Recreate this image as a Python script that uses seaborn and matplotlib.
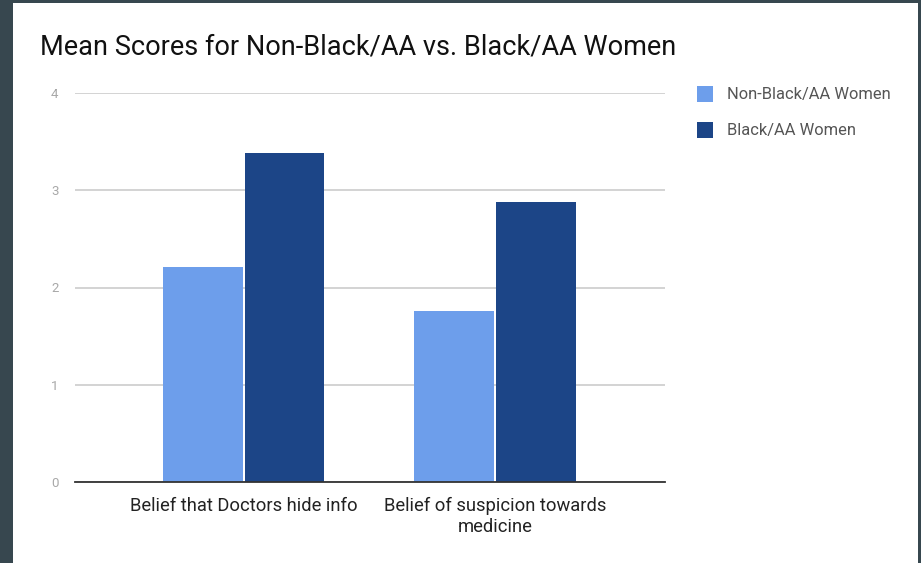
import matplotlib
matplotlib.use("Agg")
import matplotlib.pyplot as plt
from matplotlib.patches import Rectangle
import seaborn as sns
import pandas as pd

categories = ["Belief that Doctors hide info", "Belief of suspicion towards\nmedicine"]
groups = ["Non-Black/AA Women", "Black/AA Women"]
non_black_scores = [2.21, 1.76]
black_scores = [3.38, 2.88]
y_ticks = [0, 1, 2, 3, 4]

df = pd.DataFrame({
    "category": categories * 2,
    "group": [groups[0]] * 2 + [groups[1]] * 2,
    "score": non_black_scores + black_scores,
})

sns.set_theme(style="white")
plt.rcParams["font.family"] = ["Roboto", "DejaVu Sans"]

palette = {groups[0]: "#6d9eeb", groups[1]: "#1c4587"}

fig = plt.figure(figsize=(9.21, 5.63), dpi=100)
fig.patch.set_facecolor("white")
ax = fig.add_axes([75 / 921, 1 - 482 / 563, 590 / 921, 389 / 563])

sns.barplot(data=df, x="category", y="score", hue="group", palette=palette,
            width=0.648, gap=0.02, saturation=1, ax=ax, legend=False,
            edgecolor="none", zorder=3)

ax.set_xlim(-0.673, 1.677)
ax.set_ylim(0, 4)
ax.set_yticks(y_ticks)
ax.set_yticklabels([str(t) for t in y_ticks], color="#a8a8a8", fontsize=9.5)
ax.tick_params(axis="y", length=0, pad=12)
ax.tick_params(axis="x", length=0, pad=11, labelsize=13.2, labelcolor="#222222")
ax.set_xlabel("")
ax.set_ylabel("")
for lbl in ax.get_xticklabels():
    lbl.set_horizontalalignment("center")
    lbl.set_linespacing(1.2)

ax.grid(axis="y", color="#cccccc", linewidth=1.2, zorder=0)
for side in ["top", "right", "left"]:
    ax.spines[side].set_visible(False)
ax.spines["bottom"].set_color("#333333")
ax.spines["bottom"].set_linewidth(1.3)
ax.spines["bottom"].set_zorder(4)

# Title
fig.text(40 / 921, 1 - 47 / 563, "Mean Scores for Non-Black/AA vs. Black/AA Women",
         fontsize=19.5, color="#111111", va="center", ha="left")

# Legend
for i, (g, yc) in enumerate(zip(groups, [94, 130])):
    fig.patches.append(Rectangle((697 / 921, 1 - (yc + 8) / 563), 16 / 921, 16 / 563,
                                 transform=fig.transFigure, facecolor=palette[g],
                                 edgecolor="none"))
    fig.text(727 / 921, 1 - yc / 563, g, fontsize=11.9, color="#555555",
             va="center", ha="left")

# Dark frame around the card
frame = "#37474f"
fig.patches.append(Rectangle((0, 0), 13 / 921, 1, transform=fig.transFigure,
                             facecolor=frame, edgecolor="none"))
fig.patches.append(Rectangle((0, 1 - 3 / 563), 1, 3 / 563, transform=fig.transFigure,
                             facecolor=frame, edgecolor="none"))
fig.patches.append(Rectangle((918 / 921, 0), 3 / 921, 1, transform=fig.transFigure,
                             facecolor=frame, edgecolor="none"))

fig.savefig("out.png", dpi=100)
